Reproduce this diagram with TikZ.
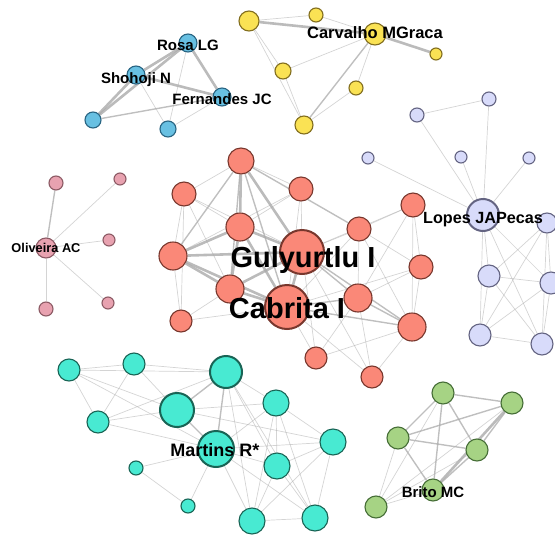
\documentclass[tikz,border=0pt]{standalone}
\usepackage{fontspec}
\setmainfont{Liberation Sans}
\usetikzlibrary{backgrounds}
\definecolor{bluef}{RGB}{104,192,226}\definecolor{blueb}{RGB}{40,100,130}
\definecolor{yelf}{RGB}{250,226,84}\definecolor{yelb}{RGB}{130,110,30}
\definecolor{lavf}{RGB}{216,219,250}\definecolor{lavb}{RGB}{100,100,130}
\definecolor{pinkf}{RGB}{232,162,176}\definecolor{pinkb}{RGB}{140,90,100}
\definecolor{salf}{RGB}{250,136,120}\definecolor{salb}{RGB}{120,55,45}
\definecolor{tealf}{RGB}{72,234,210}\definecolor{tealb}{RGB}{25,100,85}
\definecolor{grnf}{RGB}{166,211,132}\definecolor{grnb}{RGB}{70,110,55}
\definecolor{edgec}{RGB}{170,170,170}
\tikzset{
  nd/.style={circle,inner sep=0pt,draw,line width=1.1pt},
  bn/.style={nd,fill=bluef,draw=blueb},
  yn/.style={nd,fill=yelf,draw=yelb},
  ln/.style={nd,fill=lavf,draw=lavb},
  pn/.style={nd,fill=pinkf,draw=pinkb},
  sn/.style={nd,fill=salf,draw=salb},
  tn/.style={nd,fill=tealf,draw=tealb},
  gn/.style={nd,fill=grnf,draw=grnb},
  big/.style={line width=2pt},
  ea/.style={draw=edgec,opacity=0.5,line width=0.7pt},
  eb/.style={draw=edgec,opacity=0.75,line width=1.4pt},
  ec/.style={draw=edgec,opacity=0.8,line width=2.6pt},
  lab/.style={font=\bfseries,text=black,anchor=base,inner sep=0pt},
}
\begin{document}
\begin{tikzpicture}[x=1pt,y=-1pt]
\useasboundingbox (0,0) rectangle (555,536);
% blue
\node[bn,minimum size=18pt] (B1) at (188,43) {};
\node[bn,minimum size=18pt] (B2) at (136,75) {};
\node[bn,minimum size=18pt] (B3) at (222,97) {};
\node[bn,minimum size=16pt] (B4) at (93,120) {};
\node[bn,minimum size=16pt] (B5) at (168,129) {};
% yellow
\node[yn,minimum size=20pt] (Y1) at (249,21) {};
\node[yn,minimum size=14pt] (Y2) at (316,15) {};
\node[yn,minimum size=22pt] (Y3) at (375,34) {};
\node[yn,minimum size=12pt] (Y4) at (436,54) {};
\node[yn,minimum size=16pt] (Y5) at (283,71) {};
\node[yn,minimum size=14pt] (Y6) at (356,88) {};
\node[yn,minimum size=18pt] (Y7) at (304,125) {};
% lavender
\node[ln,minimum size=14pt] (L1) at (417,115) {};
\node[ln,minimum size=14pt] (L2) at (489,99) {};
\node[ln,minimum size=12pt] (L3) at (368,158) {};
\node[ln,minimum size=12pt] (L4) at (461,157) {};
\node[ln,minimum size=12pt] (L5) at (529,158) {};
\node[ln,big,minimum size=32pt] (LO) at (483,215) {};
\node[ln,minimum size=20pt] (L7) at (547,223) {};
\node[ln,minimum size=22pt] (L8) at (489,276) {};
\node[ln,minimum size=22pt] (L9) at (551,283) {};
\node[ln,minimum size=22pt] (L10) at (480,335) {};
\node[ln,minimum size=22pt] (L11) at (542,344) {};
% pink
\node[pn,minimum size=14pt] (P1) at (56,183) {};
\node[pn,minimum size=12pt] (P2) at (120,179) {};
\node[pn,minimum size=20pt] (OL) at (46,248) {};
\node[pn,minimum size=12pt] (P4) at (109,240) {};
\node[pn,minimum size=14pt] (P5) at (46,309) {};
\node[pn,minimum size=12pt] (P6) at (108,303) {};
% salmon
\node[sn,minimum size=26pt] (R1) at (241,161) {};
\node[sn,minimum size=24pt] (R2) at (184,194) {};
\node[sn,minimum size=24pt] (R3) at (301,189) {};
\node[sn,minimum size=28pt] (R4) at (240,227) {};
\node[sn,minimum size=24pt] (R5) at (413,205) {};
\node[sn,minimum size=24pt] (R6) at (359,229) {};
\node[sn,big,minimum size=44pt] (GU) at (302,252) {};
\node[sn,minimum size=28pt] (R8) at (173,256) {};
\node[sn,minimum size=24pt] (R9) at (421,267) {};
\node[sn,minimum size=28pt] (R10) at (230,289) {};
\node[sn,big,minimum size=44pt] (CA) at (287,307) {};
\node[sn,minimum size=28pt] (R12) at (358,298) {};
\node[sn,minimum size=22pt] (R13) at (181,321) {};
\node[sn,minimum size=28pt] (R14) at (412,327) {};
\node[sn,minimum size=22pt] (R15) at (316,358) {};
\node[sn,minimum size=22pt] (R16) at (372,377) {};
% teal
\node[tn,minimum size=22pt] (T1) at (69,370) {};
\node[tn,minimum size=22pt] (T2) at (134,364) {};
\node[tn,big,minimum size=32pt] (T3) at (226,372) {};
\node[tn,big,minimum size=34pt] (T4) at (177,410) {};
\node[tn,minimum size=26pt] (T5) at (276,403) {};
\node[tn,minimum size=22pt] (T6) at (98,422) {};
\node[tn,big,minimum size=36pt] (MA) at (216,449) {};
\node[tn,minimum size=26pt] (T8) at (333,442) {};
\node[tn,minimum size=26pt] (T9) at (277,466) {};
\node[tn,minimum size=14pt] (T10) at (136,468) {};
\node[tn,minimum size=14pt] (T11) at (188,506) {};
\node[tn,minimum size=26pt] (T12) at (252,521) {};
\node[tn,minimum size=26pt] (T13) at (315,518) {};
% green
\node[gn,minimum size=22pt] (G1) at (443,393) {};
\node[gn,minimum size=22pt] (G2) at (512,403) {};
\node[gn,minimum size=22pt] (G3) at (398,438) {};
\node[gn,minimum size=22pt] (G4) at (477,450) {};
\node[gn,minimum size=22pt] (BR) at (433,490) {};
\node[gn,minimum size=22pt] (G6) at (376,507) {};
\begin{scope}[on background layer]
% blue
\foreach \a/\b in {B1/B2,B1/B3,B2/B3,B2/B4,B1/B4} \draw[ec] (\a) -- (\b);
\draw[eb] (B4) -- (B3);
\foreach \a/\b in {B2/B5,B1/B5,B3/B5} \draw[ea] (\a) -- (\b);
% yellow
\foreach \a/\b in {Y1/Y3,Y3/Y4} \draw[ec] (\a) -- (\b);
\draw[eb] (Y3) -- (Y7);
\foreach \a/\b in {Y1/Y2,Y2/Y3,Y3/Y5,Y3/Y6,Y6/Y7,Y1/Y5,Y5/Y7,Y1/Y7} \draw[ea] (\a) -- (\b);
% lavender
\foreach \a/\b in {L1/L2,L1/LO,L2/LO,L3/LO,L4/LO,L5/LO,LO/L7,LO/L8,LO/L9,LO/L10,LO/L11,L7/L8,L7/L9,L7/L10,L7/L11,L8/L9,L8/L10,L8/L11,L9/L10,L9/L11,L10/L11} \draw[ea] (\a) -- (\b);
% pink
\draw[eb] (OL) -- (P1);
\foreach \b in {P2,P4,P5,P6} \draw[ea] (OL) -- (\b);
% salmon
\foreach \a/\b in {R1/R4,R1/GU,R4/GU,R4/R8,R8/GU,R8/CA,R8/R10,R10/CA,R10/GU,GU/CA,R4/CA,R4/R10} \draw[ec] (\a) -- (\b);
\foreach \a/\b in {R1/R8,R1/CA,R1/R10,GU/R12,GU/R14,CA/R14,CA/R12,R12/R14,R1/R6} \draw[eb] (\a) -- (\b);
\foreach \a/\b in {R1/R2,R1/R3,R2/R4,R2/R8,R2/GU,R2/R10,R2/R13,R3/R4,R3/GU,R3/R8,R8/R13,R5/R6,R5/R9,R5/R12,R5/R14,R5/GU,R6/GU,R6/R9,R6/CA,R6/R14,R9/R12,R9/R14,R9/CA,R12/R15,R12/R16,R14/R15,R14/R16,R15/CA,R15/GU,R16/CA,R16/GU,R13/CA,R13/R10,R3/CA,R6/R12} \draw[ea] (\a) -- (\b);
% teal
\foreach \a/\b in {T4/T3,T4/MA,T3/MA} \draw[eb] (\a) -- (\b);
\foreach \a/\b in {T1/T2,T1/T3,T1/T6,T1/T4,T1/MA,T2/T3,T2/T6,T2/T4,T6/T3,T6/T4,T6/MA,T3/T5,T3/T9,T3/T12,T3/T13,T4/T5,T4/T8,MA/T5,MA/T8,MA/T9,MA/T12,MA/T13,T5/T8,T5/T9,T5/T12,T5/T13,T8/T9,T8/T13,T8/T12,T9/T12,T9/T13,T12/T13,T10/MA,T11/MA,T10/T11} \draw[ea] (\a) -- (\b);
% green
\foreach \a/\b in {G1/G2,G1/G3,G1/G4,G1/BR,G2/G3,G2/G4,G3/G4,G3/BR,G4/BR} \draw[eb] (\a) -- (\b);
\draw[ec] (G2) -- (BR);
\foreach \a/\b in {G3/G6,G6/BR,G6/G2,G6/G4,G6/G1} \draw[ea] (\a) -- (\b);
\end{scope}
% labels
\node[lab,font=\bfseries\fontsize{29}{31}\selectfont] (lGU) at (303,267) {Gulyurtlu I};
\node[lab,font=\bfseries\fontsize{29}{31}\selectfont] (lCA) at (287,318) {Cabrita I};
\node[lab,font=\bfseries\fontsize{16.2}{18}\selectfont] (lLO) at (483,223) {Lopes JAPecas};
\node[lab,font=\bfseries\fontsize{15}{17}\selectfont] (lB1) at (188,50) {Rosa LG};
\node[lab,font=\bfseries\fontsize{15}{17}\selectfont] (lB2) at (136,83) {Shohoji N};
\node[lab,font=\bfseries\fontsize{15}{17}\selectfont] (lB3) at (222,104) {Fernandes JC};
\node[lab,font=\bfseries\fontsize{16.5}{18}\selectfont] (lY3) at (375,38) {Carvalho MGraca};
\node[lab,font=\bfseries\fontsize{12.8}{14}\selectfont] (lOL) at (46,252) {Oliveira AC};
\node[lab,font=\bfseries\fontsize{18}{20}\selectfont] (lMA) at (215,456) {Martins R*};
\node[lab,font=\bfseries\fontsize{15}{17}\selectfont] (lBR) at (433,497) {Brito MC};
\end{tikzpicture}
\end{document}
